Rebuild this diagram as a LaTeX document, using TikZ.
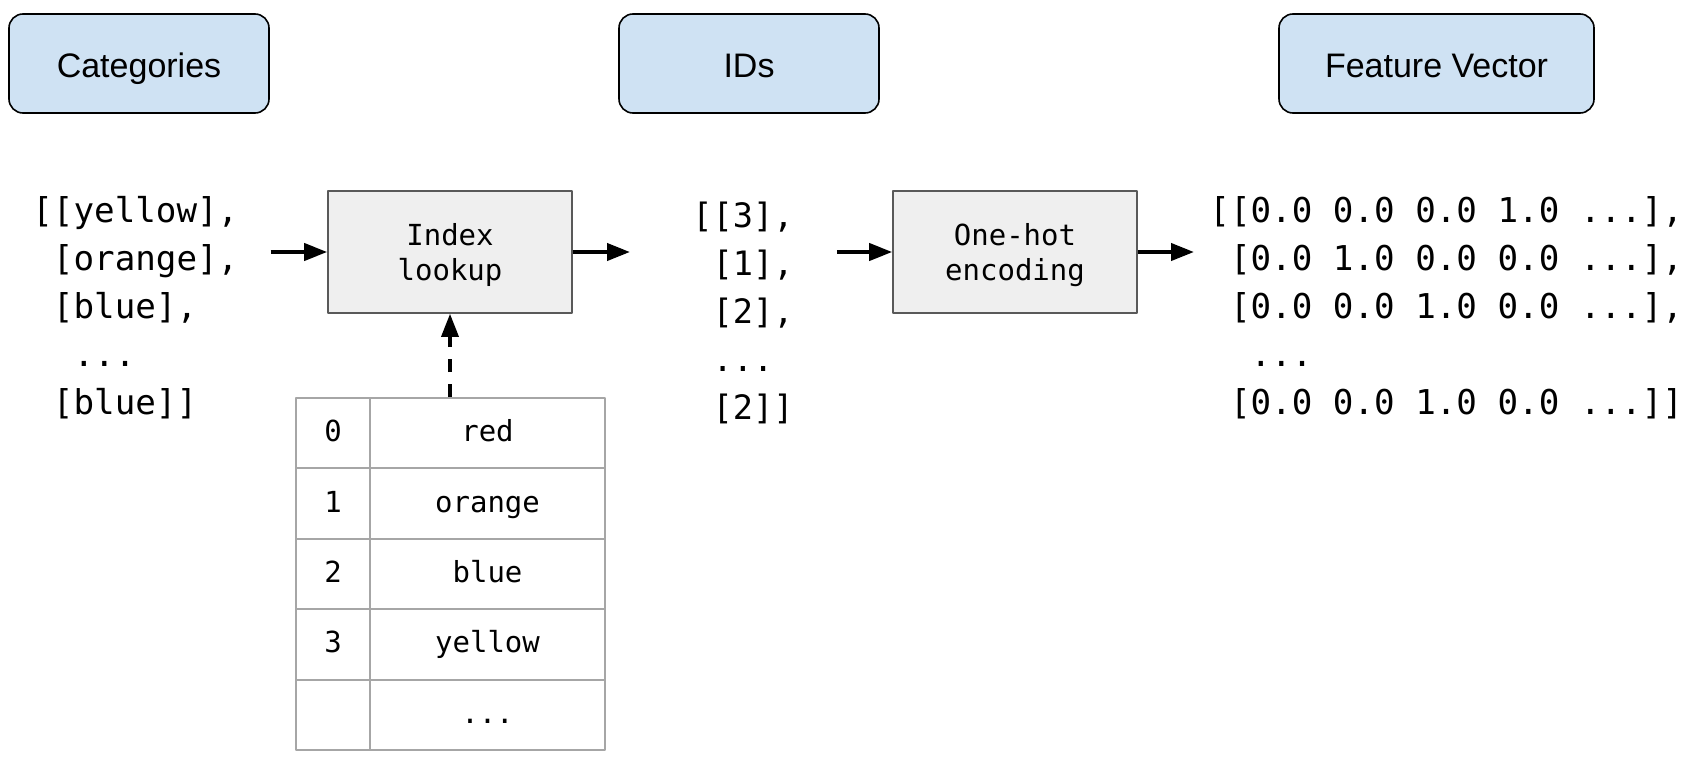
\documentclass[tikz,border=0pt]{standalone}
\usepackage{fontspec}
\setmainfont{Liberation Sans}
\setmonofont{DejaVu Sans Mono}
\usetikzlibrary{arrows.meta,positioning}
\definecolor{headblue}{HTML}{CFE2F3}
\definecolor{boxgray}{HTML}{EFEFEF}
\definecolor{boxline}{HTML}{595959}
\definecolor{gridgray}{HTML}{A6A6A6}
\newcommand\moredots{...}
\tikzset{
  header/.style={draw=black, line width=0.8pt, fill=headblue, rounded corners=7pt,
    minimum height=49.5pt, text height=13.8pt, text depth=0pt,
    font=\fontsize{17}{20}\selectfont},
  opbox/.style={draw=boxline, line width=0.8pt, fill=boxgray, minimum width=122pt,
    minimum height=61pt, align=center, text depth=0pt,
    font=\ttfamily\fontsize{14.5}{17.3}\selectfont},
  datalist/.style={inner sep=0pt, align=left, anchor=west,
    font=\ttfamily\fontsize{16.8}{24}\selectfont},
  widelist/.style={datalist, font=\ttfamily\fontsize{17.1}{24}\selectfont},
  cell/.style={draw=gridgray, line width=1pt, minimum height=35.2pt, inner sep=0pt,
    text height=8.5pt, text depth=0pt, font=\ttfamily\fontsize{14.5}{17}\selectfont},
  flow/.style={line width=2pt, -{Triangle[length=11.5pt,width=8.5pt]}},
}
\begin{document}
\begin{tikzpicture}[x=0.5pt, y=-0.5pt, line join=round]
\useasboundingbox (0,0) rectangle (1702,760);
% headers
\node[header, minimum width=130pt] (cathead) at (139,63.5) {Categories};
\node[header, minimum width=130pt] (idshead) at (749,63.5) {IDs};
\node[header, minimum width=157.5pt] (fvhead) at (1436.5,63.5) {Feature Vector};
% operations
\node[opbox] (lookup) at (450,252) {Index\\lookup};
\node[opbox] (onehot) at (1015,252) {One-hot\\encoding};
% data
\node[widelist] (catlist) at (32,308) {[[yellow],\\~[orange],\\~[blue],\\~~...\\~[blue]]};
\node[datalist] (idslist) at (692,313) {[[3],\\~[1],\\~[2],\\~...\\~[2]]};
\node[widelist] (fvlist) at (1209,308) {[[0.0 0.0 0.0 1.0 ...],\\~[0.0 1.0 0.0 0.0 ...],\\~[0.0 0.0 1.0 0.0 ...],\\~~...\\~[0.0 0.0 1.0 0.0 ...]]};
% vocabulary table
\foreach \k/\v [count=\i from 0] in {0/red,1/orange,2/blue,3/yellow,{}/\moredots}
{
  \node[cell, minimum width=37pt] (k\i) at (333,433.2+70.4*\i) {\k};
  \node[cell, minimum width=117.5pt] (v\i) at (487.5,433.2+70.4*\i) {\v};
}
% connectors
\draw[flow, shorten <=16pt] (catlist.east |- lookup.west) -- (lookup.west);
\draw[flow, shorten >=31pt] (lookup.east) -- (idslist.west |- lookup.east);
\draw[flow, shorten <=21.5pt] (idslist.east |- onehot.west) -- (onehot.west);
\draw[flow, shorten >=7.5pt] (onehot.east) -- (fvlist.west |- onehot.east);
\draw[flow, line width=1.7pt, dash pattern=on 6.5pt off 6pt] (lookup.south |- v0.north) -- (lookup.south);
\end{tikzpicture}
\end{document}
